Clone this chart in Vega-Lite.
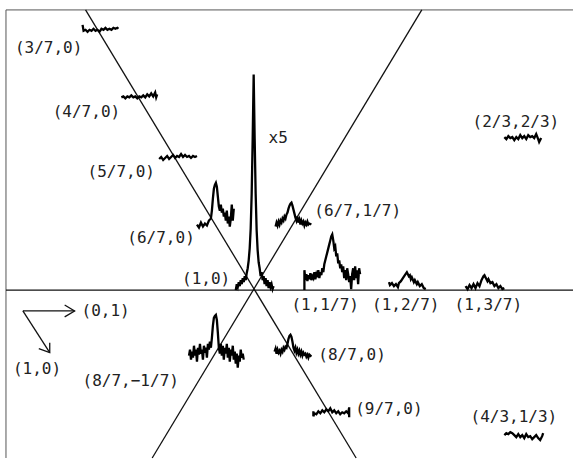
{
"$schema": "https://vega.github.io/schema/vega-lite/v6.json",
"width": 576, "height": 461, "padding": 0,
"autosize": {"type": "fit", "contains": "padding"},
"config": {"view": {"stroke": null}},
"datasets": {
"frame": [
{"x":6,"y":10,"x2":576,"y2":10},
{"x":6,"y":10,"x2":6,"y2":461}
],
"lines": [
{"g":"k","x":6,"y":292},{"g":"k","x":576,"y":292},
{"g":"h","x":86,"y":10},{"g":"h","x":358,"y":461},
{"g":"d","x":424,"y":10},{"g":"d","x":153,"y":461}
],
"arrows": [
{"g":"a1","x":23,"y":313},{"g":"a1","x":75,"y":313},
{"g":"a2","x":65,"y":307},{"g":"a2","x":75,"y":313},{"g":"a2","x":65,"y":319},
{"g":"b1","x":23,"y":313},{"g":"b1","x":50,"y":355},
{"g":"b2","x":50,"y":345},{"g":"b2","x":50,"y":355},{"g":"b2","x":39,"y":351}
],
"traces": [
{"g":"t1","x":83,"y":25},{"g":"t1","x":84,"y":31},{"g":"t1","x":86,"y":30},{"g":"t1","x":88,"y":32},{"g":"t1","x":90,"y":30},{"g":"t1","x":92,"y":31},{"g":"t1","x":94,"y":29},{"g":"t1","x":96,"y":31},{"g":"t1","x":98,"y":30},{"g":"t1","x":100,"y":32},{"g":"t1","x":102,"y":29},{"g":"t1","x":104,"y":30},{"g":"t1","x":106,"y":28},{"g":"t1","x":108,"y":30},{"g":"t1","x":110,"y":29},{"g":"t1","x":112,"y":30},{"g":"t1","x":114,"y":28},{"g":"t1","x":116,"y":29},{"g":"t1","x":118,"y":28},{"g":"t1","x":119,"y":29},
{"g":"t2","x":122,"y":98},{"g":"t2","x":124,"y":97},{"g":"t2","x":126,"y":99},{"g":"t2","x":128,"y":97},{"g":"t2","x":130,"y":98},{"g":"t2","x":132,"y":96},{"g":"t2","x":134,"y":98},{"g":"t2","x":136,"y":97},{"g":"t2","x":138,"y":99},{"g":"t2","x":140,"y":97},{"g":"t2","x":142,"y":98},{"g":"t2","x":144,"y":96},{"g":"t2","x":146,"y":98},{"g":"t2","x":148,"y":95},{"g":"t2","x":150,"y":97},{"g":"t2","x":152,"y":94},{"g":"t2","x":154,"y":97},{"g":"t2","x":156,"y":93},{"g":"t2","x":157,"y":98},{"g":"t2","x":158,"y":95},
{"g":"t3","x":160,"y":160},{"g":"t3","x":162,"y":158},{"g":"t3","x":164,"y":161},{"g":"t3","x":166,"y":159},{"g":"t3","x":168,"y":157},{"g":"t3","x":170,"y":160},{"g":"t3","x":172,"y":158},{"g":"t3","x":174,"y":156},{"g":"t3","x":176,"y":159},{"g":"t3","x":178,"y":157},{"g":"t3","x":180,"y":158},{"g":"t3","x":182,"y":155},{"g":"t3","x":184,"y":158},{"g":"t3","x":186,"y":156},{"g":"t3","x":188,"y":158},{"g":"t3","x":190,"y":157},{"g":"t3","x":192,"y":159},{"g":"t3","x":194,"y":157},{"g":"t3","x":196,"y":158},{"g":"t3","x":198,"y":157},
{"g":"t4","x":198,"y":226},{"g":"t4","x":200,"y":229},{"g":"t4","x":202,"y":224},{"g":"t4","x":204,"y":228},{"g":"t4","x":206,"y":225},{"g":"t4","x":208,"y":227},{"g":"t4","x":210,"y":222},{"g":"t4","x":212,"y":220},{"g":"t4","x":213,"y":212},{"g":"t4","x":214,"y":200},{"g":"t4","x":215,"y":190},{"g":"t4","x":216,"y":186},{"g":"t4","x":217,"y":184},{"g":"t4","x":218,"y":188},{"g":"t4","x":219,"y":198},{"g":"t4","x":220,"y":208},{"g":"t4","x":221,"y":212},{"g":"t4","x":222,"y":206},{"g":"t4","x":223,"y":214},{"g":"t4","x":224,"y":210},{"g":"t4","x":225,"y":218},{"g":"t4","x":226,"y":214},{"g":"t4","x":227,"y":222},{"g":"t4","x":228,"y":212},{"g":"t4","x":229,"y":225},{"g":"t4","x":230,"y":218},{"g":"t4","x":231,"y":228},{"g":"t4","x":232,"y":220},{"g":"t4","x":233,"y":206},{"g":"t4","x":234,"y":222},{"g":"t4","x":235,"y":210},
{"g":"t5","x":237,"y":292},{"g":"t5","x":238,"y":286},{"g":"t5","x":239,"y":289},{"g":"t5","x":240,"y":284},{"g":"t5","x":241,"y":288},{"g":"t5","x":242,"y":282},{"g":"t5","x":243,"y":286},{"g":"t5","x":244,"y":280},{"g":"t5","x":245,"y":284},{"g":"t5","x":246,"y":278},{"g":"t5","x":247,"y":282},{"g":"t5","x":248,"y":275},{"g":"t5","x":249,"y":270},{"g":"t5","x":250,"y":262},{"g":"t5","x":251,"y":250},{"g":"t5","x":252,"y":230},{"g":"t5","x":253,"y":195},{"g":"t5","x":254,"y":140},{"g":"t5","x":255,"y":75},{"g":"t5","x":256,"y":140},{"g":"t5","x":257,"y":195},{"g":"t5","x":258,"y":232},{"g":"t5","x":259,"y":252},{"g":"t5","x":260,"y":264},{"g":"t5","x":261,"y":270},{"g":"t5","x":262,"y":278},{"g":"t5","x":263,"y":274},{"g":"t5","x":264,"y":282},{"g":"t5","x":265,"y":278},{"g":"t5","x":266,"y":286},{"g":"t5","x":267,"y":280},{"g":"t5","x":268,"y":288},{"g":"t5","x":269,"y":282},{"g":"t5","x":270,"y":290},{"g":"t5","x":271,"y":284},{"g":"t5","x":272,"y":289},{"g":"t5","x":273,"y":286},{"g":"t5","x":274,"y":291},{"g":"t5","x":275,"y":288},
{"g":"t6","x":277,"y":228},{"g":"t6","x":278,"y":224},{"g":"t6","x":279,"y":227},{"g":"t6","x":280,"y":223},{"g":"t6","x":281,"y":226},{"g":"t6","x":282,"y":222},{"g":"t6","x":283,"y":224},{"g":"t6","x":284,"y":220},{"g":"t6","x":285,"y":222},{"g":"t6","x":286,"y":218},{"g":"t6","x":287,"y":220},{"g":"t6","x":288,"y":216},{"g":"t6","x":289,"y":214},{"g":"t6","x":290,"y":210},{"g":"t6","x":291,"y":207},{"g":"t6","x":292,"y":205},{"g":"t6","x":293,"y":204},{"g":"t6","x":294,"y":207},{"g":"t6","x":295,"y":211},{"g":"t6","x":296,"y":215},{"g":"t6","x":297,"y":219},{"g":"t6","x":298,"y":222},{"g":"t6","x":299,"y":218},{"g":"t6","x":300,"y":224},{"g":"t6","x":301,"y":221},{"g":"t6","x":302,"y":226},{"g":"t6","x":303,"y":222},{"g":"t6","x":304,"y":225},{"g":"t6","x":305,"y":223},{"g":"t6","x":306,"y":227},{"g":"t6","x":307,"y":224},{"g":"t6","x":308,"y":226},{"g":"t6","x":309,"y":223},{"g":"t6","x":310,"y":226},{"g":"t6","x":311,"y":225},{"g":"t6","x":313,"y":226},
{"g":"t7","x":306,"y":292},{"g":"t7","x":306,"y":272},{"g":"t7","x":307,"y":282},{"g":"t7","x":308,"y":276},{"g":"t7","x":309,"y":283},{"g":"t7","x":310,"y":277},{"g":"t7","x":311,"y":281},{"g":"t7","x":312,"y":275},{"g":"t7","x":313,"y":282},{"g":"t7","x":314,"y":278},{"g":"t7","x":315,"y":280},{"g":"t7","x":316,"y":274},{"g":"t7","x":317,"y":281},{"g":"t7","x":318,"y":276},{"g":"t7","x":319,"y":279},{"g":"t7","x":320,"y":272},{"g":"t7","x":321,"y":280},{"g":"t7","x":322,"y":274},{"g":"t7","x":323,"y":277},{"g":"t7","x":324,"y":270},{"g":"t7","x":325,"y":274},{"g":"t7","x":326,"y":266},{"g":"t7","x":327,"y":262},{"g":"t7","x":328,"y":258},{"g":"t7","x":329,"y":254},{"g":"t7","x":330,"y":250},{"g":"t7","x":331,"y":246},{"g":"t7","x":332,"y":242},{"g":"t7","x":333,"y":238},{"g":"t7","x":334,"y":236},{"g":"t7","x":335,"y":242},{"g":"t7","x":336,"y":250},{"g":"t7","x":337,"y":248},{"g":"t7","x":338,"y":258},{"g":"t7","x":339,"y":255},{"g":"t7","x":340,"y":265},{"g":"t7","x":341,"y":262},{"g":"t7","x":342,"y":270},{"g":"t7","x":343,"y":266},{"g":"t7","x":344,"y":274},{"g":"t7","x":345,"y":268},{"g":"t7","x":346,"y":280},{"g":"t7","x":347,"y":272},{"g":"t7","x":348,"y":282},{"g":"t7","x":349,"y":270},{"g":"t7","x":350,"y":276},{"g":"t7","x":351,"y":284},{"g":"t7","x":352,"y":278},{"g":"t7","x":353,"y":291},{"g":"t7","x":354,"y":276},{"g":"t7","x":355,"y":270},{"g":"t7","x":356,"y":282},{"g":"t7","x":357,"y":268},{"g":"t7","x":358,"y":280},{"g":"t7","x":359,"y":272},{"g":"t7","x":360,"y":286},{"g":"t7","x":361,"y":270},{"g":"t7","x":362,"y":276},
{"g":"t8","x":391,"y":284},{"g":"t8","x":392,"y":287},{"g":"t8","x":394,"y":285},{"g":"t8","x":396,"y":288},{"g":"t8","x":398,"y":286},{"g":"t8","x":400,"y":289},{"g":"t8","x":401,"y":285},{"g":"t8","x":403,"y":283},{"g":"t8","x":405,"y":280},{"g":"t8","x":407,"y":277},{"g":"t8","x":409,"y":274},{"g":"t8","x":410,"y":276},{"g":"t8","x":411,"y":278},{"g":"t8","x":412,"y":277},{"g":"t8","x":413,"y":281},{"g":"t8","x":414,"y":279},{"g":"t8","x":416,"y":284},{"g":"t8","x":417,"y":282},{"g":"t8","x":419,"y":286},{"g":"t8","x":420,"y":284},{"g":"t8","x":422,"y":288},{"g":"t8","x":424,"y":286},{"g":"t8","x":426,"y":290},{"g":"t8","x":428,"y":291},
{"g":"t9","x":468,"y":288},{"g":"t9","x":470,"y":291},{"g":"t9","x":472,"y":287},{"g":"t9","x":474,"y":290},{"g":"t9","x":476,"y":286},{"g":"t9","x":478,"y":290},{"g":"t9","x":480,"y":285},{"g":"t9","x":482,"y":288},{"g":"t9","x":484,"y":282},{"g":"t9","x":486,"y":278},{"g":"t9","x":487,"y":277},{"g":"t9","x":488,"y":279},{"g":"t9","x":490,"y":283},{"g":"t9","x":491,"y":281},{"g":"t9","x":493,"y":285},{"g":"t9","x":495,"y":284},{"g":"t9","x":497,"y":288},{"g":"t9","x":499,"y":286},{"g":"t9","x":501,"y":290},{"g":"t9","x":503,"y":288},{"g":"t9","x":505,"y":291},{"g":"t9","x":507,"y":290},
{"g":"t10","x":507,"y":138},{"g":"t10","x":509,"y":140},{"g":"t10","x":511,"y":137},{"g":"t10","x":513,"y":139},{"g":"t10","x":515,"y":138},{"g":"t10","x":517,"y":141},{"g":"t10","x":519,"y":138},{"g":"t10","x":521,"y":140},{"g":"t10","x":523,"y":136},{"g":"t10","x":525,"y":139},{"g":"t10","x":527,"y":137},{"g":"t10","x":529,"y":140},{"g":"t10","x":531,"y":136},{"g":"t10","x":533,"y":138},{"g":"t10","x":535,"y":137},{"g":"t10","x":537,"y":139},{"g":"t10","x":539,"y":135},{"g":"t10","x":541,"y":140},{"g":"t10","x":542,"y":143},{"g":"t10","x":544,"y":139},
{"g":"t11","x":507,"y":438},{"g":"t11","x":509,"y":436},{"g":"t11","x":511,"y":437},{"g":"t11","x":513,"y":435},{"g":"t11","x":515,"y":436},{"g":"t11","x":517,"y":438},{"g":"t11","x":519,"y":440},{"g":"t11","x":521,"y":437},{"g":"t11","x":523,"y":440},{"g":"t11","x":525,"y":438},{"g":"t11","x":527,"y":441},{"g":"t11","x":529,"y":437},{"g":"t11","x":531,"y":440},{"g":"t11","x":533,"y":439},{"g":"t11","x":535,"y":442},{"g":"t11","x":537,"y":440},{"g":"t11","x":539,"y":438},{"g":"t11","x":541,"y":441},{"g":"t11","x":543,"y":443},{"g":"t11","x":545,"y":439},{"g":"t11","x":546,"y":436},
{"g":"t12","x":190,"y":358},{"g":"t12","x":191,"y":352},{"g":"t12","x":192,"y":362},{"g":"t12","x":193,"y":354},{"g":"t12","x":194,"y":360},{"g":"t12","x":195,"y":348},{"g":"t12","x":196,"y":358},{"g":"t12","x":197,"y":352},{"g":"t12","x":198,"y":364},{"g":"t12","x":199,"y":350},{"g":"t12","x":200,"y":357},{"g":"t12","x":201,"y":346},{"g":"t12","x":202,"y":356},{"g":"t12","x":203,"y":352},{"g":"t12","x":204,"y":362},{"g":"t12","x":205,"y":348},{"g":"t12","x":206,"y":355},{"g":"t12","x":207,"y":350},{"g":"t12","x":208,"y":360},{"g":"t12","x":209,"y":346},{"g":"t12","x":210,"y":352},{"g":"t12","x":211,"y":344},{"g":"t12","x":212,"y":350},{"g":"t12","x":213,"y":340},{"g":"t12","x":214,"y":328},{"g":"t12","x":215,"y":320},{"g":"t12","x":216,"y":318},{"g":"t12","x":217,"y":317},{"g":"t12","x":218,"y":322},{"g":"t12","x":219,"y":335},{"g":"t12","x":220,"y":350},{"g":"t12","x":221,"y":356},{"g":"t12","x":222,"y":346},{"g":"t12","x":223,"y":358},{"g":"t12","x":224,"y":348},{"g":"t12","x":225,"y":362},{"g":"t12","x":226,"y":350},{"g":"t12","x":227,"y":356},{"g":"t12","x":228,"y":346},{"g":"t12","x":229,"y":360},{"g":"t12","x":230,"y":350},{"g":"t12","x":231,"y":364},{"g":"t12","x":232,"y":352},{"g":"t12","x":233,"y":358},{"g":"t12","x":234,"y":348},{"g":"t12","x":235,"y":362},{"g":"t12","x":236,"y":354},{"g":"t12","x":237,"y":366},{"g":"t12","x":238,"y":356},{"g":"t12","x":239,"y":370},{"g":"t12","x":240,"y":358},{"g":"t12","x":241,"y":364},{"g":"t12","x":242,"y":352},{"g":"t12","x":243,"y":360},{"g":"t12","x":244,"y":356},{"g":"t12","x":245,"y":362},
{"g":"t13","x":276,"y":354},{"g":"t13","x":277,"y":351},{"g":"t13","x":278,"y":356},{"g":"t13","x":279,"y":352},{"g":"t13","x":280,"y":355},{"g":"t13","x":281,"y":353},{"g":"t13","x":282,"y":356},{"g":"t13","x":283,"y":352},{"g":"t13","x":284,"y":354},{"g":"t13","x":285,"y":350},{"g":"t13","x":286,"y":352},{"g":"t13","x":287,"y":349},{"g":"t13","x":288,"y":350},{"g":"t13","x":289,"y":346},{"g":"t13","x":290,"y":341},{"g":"t13","x":291,"y":338},{"g":"t13","x":292,"y":337},{"g":"t13","x":293,"y":339},{"g":"t13","x":294,"y":344},{"g":"t13","x":295,"y":350},{"g":"t13","x":296,"y":353},{"g":"t13","x":297,"y":350},{"g":"t13","x":298,"y":355},{"g":"t13","x":299,"y":352},{"g":"t13","x":300,"y":356},{"g":"t13","x":301,"y":353},{"g":"t13","x":302,"y":357},{"g":"t13","x":303,"y":354},{"g":"t13","x":304,"y":358},{"g":"t13","x":305,"y":355},{"g":"t13","x":306,"y":357},{"g":"t13","x":307,"y":356},{"g":"t13","x":308,"y":359},{"g":"t13","x":309,"y":357},{"g":"t13","x":310,"y":360},{"g":"t13","x":311,"y":357},{"g":"t13","x":313,"y":359},
{"g":"t14","x":315,"y":414},{"g":"t14","x":315,"y":419},{"g":"t14","x":316,"y":416},{"g":"t14","x":318,"y":417},{"g":"t14","x":320,"y":414},{"g":"t14","x":322,"y":416},{"g":"t14","x":324,"y":413},{"g":"t14","x":326,"y":415},{"g":"t14","x":328,"y":412},{"g":"t14","x":330,"y":414},{"g":"t14","x":332,"y":411},{"g":"t14","x":334,"y":415},{"g":"t14","x":336,"y":413},{"g":"t14","x":338,"y":416},{"g":"t14","x":340,"y":414},{"g":"t14","x":342,"y":417},{"g":"t14","x":344,"y":415},{"g":"t14","x":346,"y":416},{"g":"t14","x":348,"y":414},{"g":"t14","x":350,"y":416},{"g":"t14","x":351,"y":410},{"g":"t14","x":351,"y":420}
],
"labels": [
{"t":"(3/7,0)","x":15,"y":48},
{"t":"(4/7,0)","x":53,"y":113},
{"t":"(5/7,0)","x":88,"y":173},
{"t":"(6/7,0)","x":128,"y":240},
{"t":"(1,0)","x":183,"y":281},
{"t":"x5","x":270,"y":139},
{"t":"(6/7,1/7)","x":316,"y":212},
{"t":"(1,1/7)","x":293,"y":307},
{"t":"(1,2/7)","x":374,"y":307},
{"t":"(1,3/7)","x":457,"y":307},
{"t":"(2/3,2/3)","x":475,"y":123},
{"t":"(4/3,1/3)","x":473,"y":420},
{"t":"(0,1)","x":82,"y":313},
{"t":"(1,0)","x":13,"y":371},
{"t":"(8/7,−1/7)","x":83,"y":383},
{"t":"(8/7,0)","x":320,"y":357},
{"t":"(9/7,0)","x":357,"y":412}
]
},
"layer": [
{"data":{"name":"frame"},"mark":{"type":"rule","color":"#555","strokeWidth":1},
 "encoding":{
  "x":{"field":"x","type":"quantitative","scale":{"domain":[0,576],"nice":false,"zero":false},"axis":null},
  "y":{"field":"y","type":"quantitative","scale":{"domain":[0,461],"nice":false,"zero":false,"reverse":true},"axis":null},
  "x2":{"field":"x2"},"y2":{"field":"y2"}}},
{"data":{"name":"lines"},"mark":{"type":"line","color":"#111","strokeWidth":1.3},
 "encoding":{"x":{"field":"x","type":"quantitative","axis":null},"y":{"field":"y","type":"quantitative","axis":null},"detail":{"field":"g"},"order":{"value":null}}},
{"data":{"name":"arrows"},"mark":{"type":"line","color":"#111","strokeWidth":1.3},
 "encoding":{"x":{"field":"x","type":"quantitative","axis":null},"y":{"field":"y","type":"quantitative","axis":null},"detail":{"field":"g"},"order":{"value":null}}},
{"data":{"name":"traces"},"mark":{"type":"line","color":"#000","strokeWidth":2.3,"strokeJoin":"miter"},
 "encoding":{"x":{"field":"x","type":"quantitative","axis":null},"y":{"field":"y","type":"quantitative","axis":null},"detail":{"field":"g"},"order":{"value":null}}},
{"data":{"name":"labels"},"mark":{"type":"text","align":"left","baseline":"middle","font":"DejaVu Sans Mono","fontSize":16,"color":"#222"},
 "encoding":{"x":{"field":"x","type":"quantitative","axis":null},"y":{"field":"y","type":"quantitative","axis":null},"text":{"field":"t"}}}
],
"resolve": {"scale": {"x": "shared", "y": "shared"}}
}
